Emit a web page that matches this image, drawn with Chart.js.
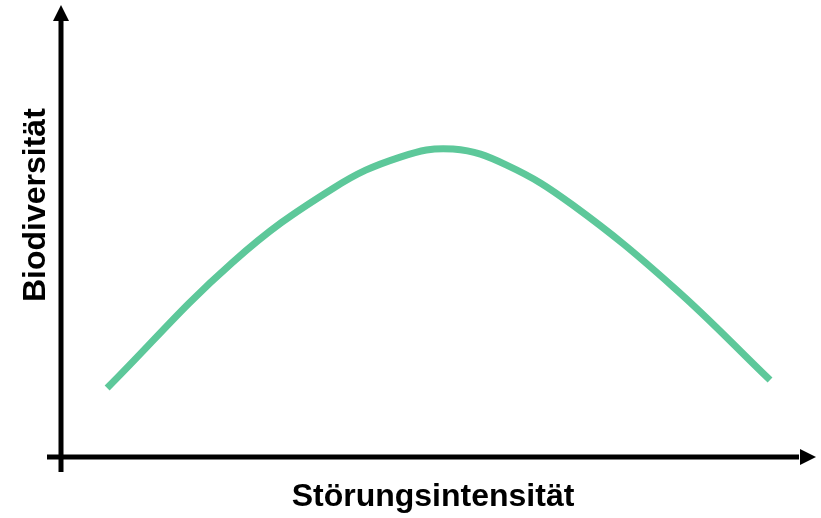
<!DOCTYPE html>
<html>
<head>
<meta charset="utf-8">
<script src="https://cdn.jsdelivr.net/npm/chart.js@4"></script>
<style>
  body { margin: 0; background: #fff; }
</style>
</head>
<body>
<canvas id="chart" width="821" height="518"></canvas>
<script>
// Störungsintensität (x) vs. Biodiversität (y), 0..100 units
const intensity = [6.2, 23.1, 36.6, 45.6, 52.7, 59.9, 68.8, 82.3, 95.3];
const diversity = [15.5, 43.8, 60.4, 67.4, 69.2, 65.6, 56.6, 38.2, 17.3];

const xTitle = 'Störungsintensität';
const yTitle = 'Biodiversität';

const points = intensity.map((x, i) => ({ x: x, y: diversity[i] }));

// axes with arrow heads + axis titles
const arrowAxes = {
  id: 'arrowAxes',
  afterDraw(chart) {
    const { ctx, chartArea: a } = chart;
    ctx.save();
    ctx.strokeStyle = '#000';
    ctx.fillStyle = '#000';
    ctx.lineWidth = 5;

    // y axis
    ctx.beginPath();
    ctx.moveTo(a.left, a.bottom + 15);
    ctx.lineTo(a.left, a.top + 8);
    ctx.stroke();
    ctx.beginPath();
    ctx.moveTo(a.left, a.top - 7);
    ctx.lineTo(a.left - 8, a.top + 9);
    ctx.lineTo(a.left + 8, a.top + 9);
    ctx.closePath();
    ctx.fill();

    // x axis
    ctx.beginPath();
    ctx.moveTo(a.left - 14, a.bottom);
    ctx.lineTo(a.right - 6, a.bottom);
    ctx.stroke();
    ctx.beginPath();
    ctx.moveTo(a.right + 11, a.bottom);
    ctx.lineTo(a.right - 5, a.bottom - 8);
    ctx.lineTo(a.right - 5, a.bottom + 8);
    ctx.closePath();
    ctx.fill();

    // titles
    ctx.font = 'bold 32px "Liberation Sans", Arial, sans-serif';
    ctx.textAlign = 'center';
    ctx.textBaseline = 'alphabetic';
    ctx.fillText(xTitle, (a.left + a.right) / 2, a.bottom + 49);

    ctx.translate(a.left - 16, a.top + (a.bottom - a.top) * 0.434);
    ctx.rotate(-Math.PI / 2);
    ctx.fillText(yTitle, 0, 0);
    ctx.restore();
  }
};

new Chart(document.getElementById('chart'), {
  type: 'line',
  data: {
    datasets: [{
      data: points,
      borderColor: '#5dc89a',
      borderWidth: 7,
      pointRadius: 0,
      fill: false,
      tension: 0.4
    }]
  },
  options: {
    responsive: false,
    animation: false,
    layout: { padding: { left: 61, right: 16, top: 12, bottom: 61 } },
    plugins: { legend: { display: false }, tooltip: { enabled: false } },
    scales: {
      x: { type: 'linear', min: 0, max: 100, display: false },
      y: { min: 0, max: 100, display: false }
    }
  },
  plugins: [arrowAxes]
});
</script>
</body>
</html>
